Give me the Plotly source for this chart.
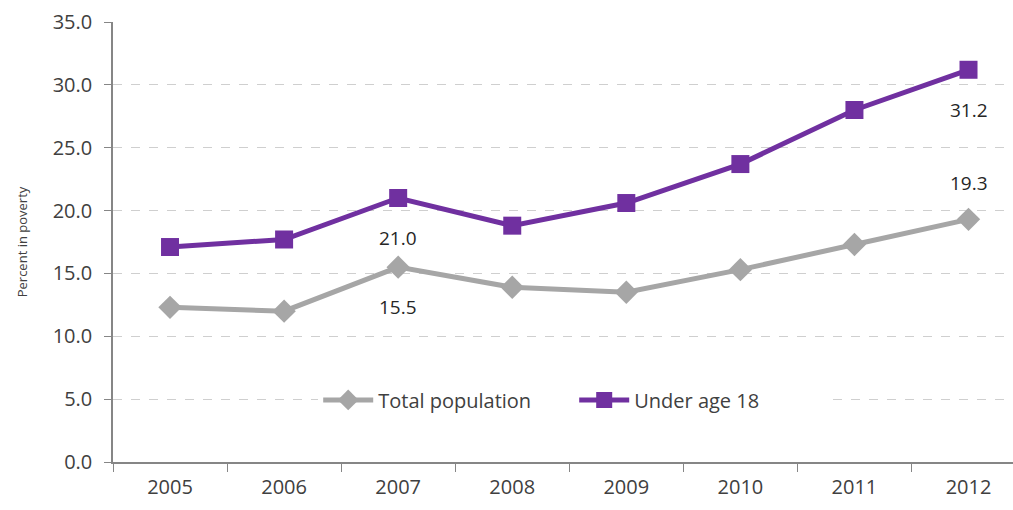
import plotly.graph_objects as go

years = ["2005", "2006", "2007", "2008", "2009", "2010", "2011", "2012"]
total_population = [12.3, 12.0, 15.5, 13.9, 13.5, 15.3, 17.3, 19.3]
under_18 = [17.1, 17.7, 21.0, 18.8, 20.6, 23.7, 28.0, 31.2]
y_ticks = [0, 5, 10, 15, 20, 25, 30, 35]
y_tick_labels = [f"{v:.1f}" for v in y_ticks]

gray = "#A6A6A6"
purple = "#7030A0"
txt = "#404040"
font = "Open Sans"

fig = go.Figure()
fig.add_trace(go.Scatter(
    x=years, y=total_population, name="Total population", mode="lines+markers",
    line=dict(color=gray, width=5),
    marker=dict(symbol="diamond", size=18, color=gray),
))
fig.add_trace(go.Scatter(
    x=years, y=under_18, name="Under age 18", mode="lines+markers",
    line=dict(color=purple, width=5),
    marker=dict(symbol="square", size=18, color=purple),
))

anns = []
for idx, series, shift in [
    (2, under_18, -40),
    (2, total_population, -40),
    (7, under_18, -40),
    (7, total_population, 36),
]:
    v = series[idx]
    anns.append(dict(x=idx, y=v, xref="x", yref="y", text=f"{v:.1f}", showarrow=False,
                     yshift=shift, font=dict(family=font, size=19, color="#262626")))

fig.update_layout(
    width=1013, height=510,
    margin=dict(l=113, r=0, t=22, b=48),
    paper_bgcolor="white", plot_bgcolor="white",
    font=dict(family=font, color=txt),
    showlegend=True,
    legend=dict(orientation="h", x=0.228, xanchor="left", y=0.141, yanchor="middle",
                bgcolor="white", font=dict(family=font, size=20, color=txt),
                itemwidth=50, entrywidth=191, entrywidthmode="pixels"),
    annotations=anns,
    xaxis=dict(
        type="category", range=[-0.5, 7.39], tickson="boundaries",
        showgrid=False, showline=True, linecolor="#868686", linewidth=1.5,
        ticks="outside", ticklen=8, tickcolor="#868686",
        tickfont=dict(family=font, size=20, color=txt),
        ticklabelstandoff=6,
        automargin=False,
    ),
    yaxis=dict(
        range=[0, 35], tickvals=y_ticks, ticktext=y_tick_labels,
        showgrid=True, gridcolor="#CFCFCF", griddash="dash", gridwidth=1,
        showline=True, linecolor="#868686", linewidth=1.5,
        ticks="outside", ticklen=7, tickcolor="#868686",
        tickfont=dict(family=font, size=20, color=txt),
        ticklabelstandoff=8,
        title=dict(text="Percent in poverty", font=dict(family=font, size=13, color=txt), standoff=22),
        zeroline=False, automargin=False,
    ),
)

fig.write_html("out.html", config={"displayModeBar": False},
               post_script="document.body.style.margin='0';")
